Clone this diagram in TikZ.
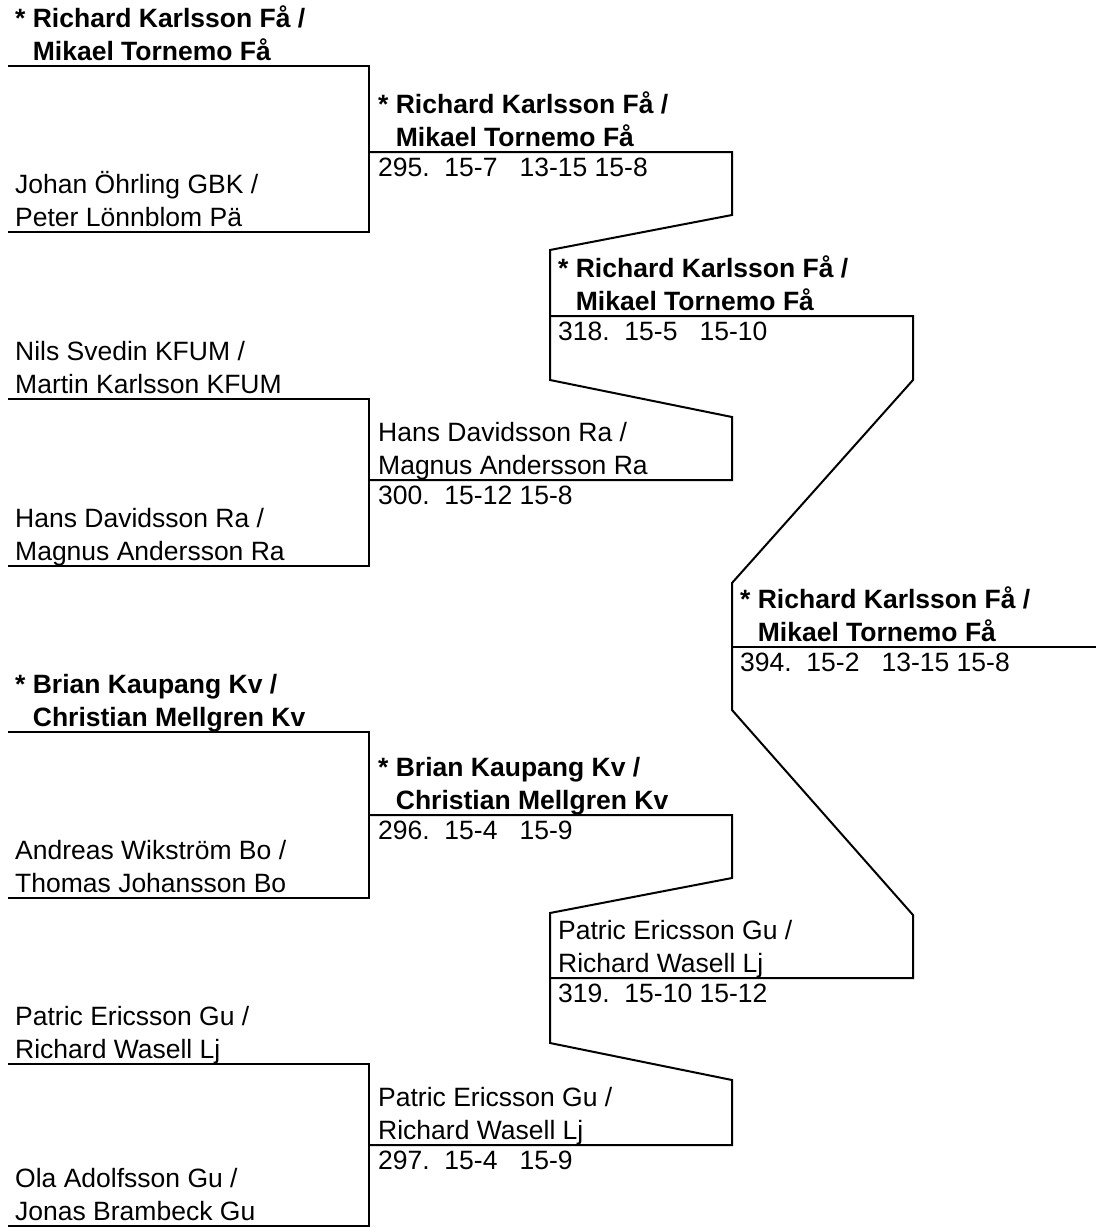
\documentclass[tikz,border=0pt]{standalone}
\usepackage{fontspec}
\setmainfont{Liberation Sans}
\tikzset{
  br/.style={line width=2pt, line join=miter},
  nm/.style={anchor=base west, inner sep=0pt, font=\fontsize{26.5}{33}\selectfont},
  nb/.style={nm, font=\fontsize{26.5}{33}\selectfont\bfseries},
}
\newcommand\plentry[5]{%
  \node[nm] (#1a) at (#2,#3-39) {#4};
  \node[nm] (#1b) at (#2,#3-6) {#5};}
\newcommand\bdentry[5]{%
  \node[nb] (#1a) at (#2,#3-39) {* #4};
  \node[nb] (#1b) at (#2,#3-6) {\phantom{*\ }#5};}
\newcommand\score[4]{%
  \node[nm] (#1) at (#2,#3+24) {#4};}
\begin{document}
\begin{tikzpicture}[x=1pt,y=-1pt]
\useasboundingbox (0,0) rectangle (1104,1229);
% round 1 brackets
\draw[br] (8,66) -- (369,66) -- (369,232) -- (8,232);
\draw[br] (8,399) -- (369,399) -- (369,566) -- (8,566);
\draw[br] (8,732) -- (369,732) -- (369,898) -- (8,898);
\draw[br] (8,1064) -- (369,1064) -- (369,1226) -- (8,1226);
% round 2
\draw[br] (369,152) -- (732,152) -- (732,215) -- (550,250) -- (550,380) -- (732,417) -- (732,480) -- (369,480);
\draw[br] (369,815) -- (732,815) -- (732,878) -- (550,913) -- (550,1043) -- (732,1080) -- (732,1145) -- (369,1145);
% round 3
\draw[br] (550,316) -- (913,316) -- (913,380) -- (732,583) -- (732,710) -- (913,915) -- (913,978) -- (550,978);
% final
\draw[br] (732,647) -- (1096,647);
% round 1 texts
\bdentry{ra}{15}{66}{Richard Karlsson Få /}{Mikael Tornemo Få}
\plentry{rb}{15}{232}{Johan Öhrling GBK /}{Peter Lönnblom Pä}
\plentry{rc}{15}{399}{Nils Svedin KFUM /}{Martin Karlsson KFUM}
\plentry{rd}{15}{566}{Hans Davidsson Ra /}{Magnus Andersson Ra}
\bdentry{re}{15}{732}{Brian Kaupang Kv /}{Christian Mellgren Kv}
\plentry{rf}{15}{898}{Andreas Wikström Bo /}{Thomas Johansson Bo}
\plentry{rg}{15}{1064}{Patric Ericsson Gu /}{Richard Wasell Lj}
\plentry{rh}{15}{1226}{Ola Adolfsson Gu /}{Jonas Brambeck Gu}
% round 2 texts
\bdentry{sa}{378}{152}{Richard Karlsson Få /}{Mikael Tornemo Få}
\score{sas}{378}{152}{295.\ \ 15-7\ \ \ 13-15 15-8}
\plentry{sb}{378}{480}{Hans Davidsson Ra /}{Magnus Andersson Ra}
\score{sbs}{378}{480}{300.\ \ 15-12 15-8}
\bdentry{sc}{378}{815}{Brian Kaupang Kv /}{Christian Mellgren Kv}
\score{scs}{378}{815}{296.\ \ 15-4\ \ \ 15-9}
\plentry{sd}{378}{1145}{Patric Ericsson Gu /}{Richard Wasell Lj}
\score{sds}{378}{1145}{297.\ \ 15-4\ \ \ 15-9}
% round 3 texts
\bdentry{ta}{558}{316}{Richard Karlsson Få /}{Mikael Tornemo Få}
\score{tas}{558}{316}{318.\ \ 15-5\ \ \ 15-10}
\plentry{tb}{558}{978}{Patric Ericsson Gu /}{Richard Wasell Lj}
\score{tbs}{558}{978}{319.\ \ 15-10 15-12}
% final texts
\bdentry{ua}{740}{647}{Richard Karlsson Få /}{Mikael Tornemo Få}
\score{uas}{740}{647}{394.\ \ 15-2\ \ \ 13-15 15-8}
\end{tikzpicture}
\end{document}
